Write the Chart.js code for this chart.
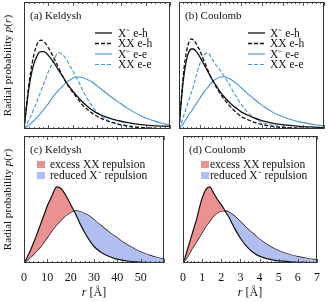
<!DOCTYPE html>
<html><head><meta charset="utf-8">
<script src="https://cdn.jsdelivr.net/npm/chart.js@4"></script>
<style>
html,body{margin:0;padding:0;background:#fff;width:328px;height:302px;overflow:hidden;}
canvas{position:absolute;display:block;}
</style></head><body>
<canvas id="ca" width="172" height="131" style="left:0;top:0"></canvas>
<canvas id="cb" width="156" height="131" style="left:172px;top:0"></canvas>
<canvas id="cc" width="172" height="168" style="left:0;top:134px"></canvas>
<canvas id="cd" width="156" height="168" style="left:172px;top:134px"></canvas>
<script>
// ---------- data ----------
const rK = [0,1,2,3,4,5,6,7,8,9,10,12,14,16,18,20,22,24,26,28,30,33,36,39,42,45,48,51,54,57,60];
const kXmEH = [0,0.17,0.32,0.43,0.51,0.56,0.60,0.61,0.61,0.60,0.58,0.53,0.47,0.41,0.35,0.30,0.255,0.215,0.18,0.15,0.125,0.10,0.08,0.065,0.052,0.042,0.034,0.029,0.025,0.022,0.02];
const kXXEH = [0,0.18,0.35,0.48,0.58,0.65,0.69,0.70,0.69,0.67,0.64,0.57,0.49,0.41,0.345,0.29,0.24,0.19,0.155,0.125,0.10,0.072,0.052,0.037,0.026,0.018,0.012,0.008,0.005,0.003,0.002];
const kXmEE = [0,0.015,0.03,0.048,0.065,0.085,0.105,0.127,0.15,0.175,0.2,0.255,0.30,0.34,0.375,0.40,0.41,0.405,0.39,0.37,0.34,0.295,0.25,0.21,0.17,0.135,0.105,0.08,0.06,0.043,0.03];
const kXXEE = [0,0.03,0.07,0.11,0.155,0.20,0.25,0.30,0.35,0.40,0.45,0.53,0.60,0.585,0.53,0.46,0.39,0.31,0.24,0.18,0.13,0.085,0.055,0.035,0.022,0.014,0.009,0.006,0.004,0.003,0.002];

const rC = [0,0.1,0.2,0.3,0.4,0.5,0.6,0.7,0.8,0.9,1.0,1.2,1.4,1.6,1.8,2.0,2.2,2.4,2.6,2.8,3.0,3.3,3.6,3.9,4.2,4.5,4.8,5.2,5.6,6.0,6.5,7.0];
const cXmEH = [0,0.2,0.37,0.49,0.57,0.615,0.63,0.63,0.615,0.595,0.57,0.51,0.45,0.39,0.34,0.29,0.25,0.215,0.185,0.16,0.135,0.11,0.09,0.072,0.058,0.047,0.038,0.03,0.024,0.019,0.015,0.011];
const cXXEH = [0,0.22,0.41,0.55,0.64,0.69,0.71,0.70,0.68,0.65,0.62,0.54,0.46,0.39,0.33,0.275,0.23,0.19,0.155,0.125,0.10,0.075,0.055,0.04,0.029,0.021,0.015,0.01,0.007,0.005,0.003,0.002];
const cXmEE = [0,0.02,0.04,0.065,0.09,0.12,0.14,0.165,0.19,0.215,0.24,0.29,0.33,0.37,0.395,0.41,0.41,0.40,0.38,0.355,0.325,0.28,0.24,0.20,0.165,0.135,0.11,0.085,0.065,0.05,0.035,0.025];
const cXXEE = [0,0.04,0.09,0.14,0.19,0.24,0.29,0.34,0.40,0.46,0.51,0.58,0.60,0.55,0.50,0.46,0.41,0.36,0.30,0.245,0.195,0.135,0.09,0.06,0.042,0.03,0.021,0.014,0.009,0.006,0.004,0.002];

const tickValsK = [0,10,20,30,40,50];
const tickLabelsK = ['0','10','20','30','40','50'];
const tickValsC = [0,1,2,3,4,5,6,7];
const tickLabelsC = ['0','1','2','3','4','5','6','7'];

const seriesNames = ['X\u207B e-h','XX e-h','X\u207B e-e','XX e-e'];
const fillNames = ['excess XX repulsion','reduced X\u207B repulsion'];
const panelTitles = ['(a) Keldysh','(b) Coulomb','(c) Keldysh','(d) Coulomb'];

// ---------- styles ----------
const BLUE = '#4a93d8';
const RED_FILL = '#ec9191';
const BLUE_FILL = '#b1bff0';
const FONT = '"Liberation Serif", "Times New Roman", serif';

const pts = (xs, ys) => xs.map((x, i) => ({x, y: ys[i]}));

const drawPlugin = {
  id: 'panelDeco',
  afterDatasetsDraw(chart, args, o) {
    const {ctx, chartArea: a, scales: {x}} = chart;
    ctx.save();
    ctx.strokeStyle = '#333'; ctx.lineWidth = 0.8;
    for (let v = 0; v <= o.xmax + 1e-9; v += o.minor) {
      const px = Math.round(x.getPixelForValue(v)) + 0.5;
      const major = Math.abs(v / o.major - Math.round(v / o.major)) < 1e-6;
      const L = major ? 4 : 2;
      ctx.beginPath();
      ctx.moveTo(px, a.bottom); ctx.lineTo(px, a.bottom - L);
      ctx.moveTo(px, a.top); ctx.lineTo(px, a.top + L);
      ctx.stroke();
    }
    ctx.strokeStyle = '#333'; ctx.lineWidth = 1;
    ctx.strokeRect(a.left + 0.5, a.top + 0.5, a.right - a.left - 1, a.bottom - a.top - 1);
    ctx.fillStyle = '#111';
    ctx.font = '11px ' + FONT;
    ctx.textBaseline = 'alphabetic';
    ctx.textAlign = 'left';
    ctx.fillText(o.title, a.left + 6, a.top + 17);
    ctx.textBaseline = 'middle';
    ctx.font = '11.5px ' + FONT;
    if (o.lines) {
      o.lines.forEach((it, i) => {
        const y = a.top + o.ly0 + i * o.ldy;
        ctx.strokeStyle = it.color; ctx.lineWidth = it.w;
        ctx.setLineDash(it.dash);
        ctx.beginPath(); ctx.moveTo(a.left + o.lx0, y); ctx.lineTo(a.left + o.lx1, y); ctx.stroke();
        ctx.setLineDash([]);
        ctx.fillStyle = '#111';
        ctx.fillText(it.label, a.left + o.tx, y + 0.5);
      });
    }
    if (o.boxes) {
      o.boxes.forEach((it, i) => {
        const y = a.top + o.ly0 + i * o.ldy;
        ctx.fillStyle = it.color;
        ctx.fillRect(a.left + o.bx, y - 3.5, 8, 7);
        ctx.fillStyle = '#111';
        ctx.fillText(it.label, a.left + o.tx, y + 0.5);
      });
    }
    const FS = '11.2px ';
    if (o.ytitle) {
      const parts = [['Radial probability ', false], ['p', true], ['(', false], ['r', true], [')', false]];
      let w = 0;
      parts.forEach(p => { ctx.font = (p[1] ? 'italic ' : '') + FS + FONT; w += ctx.measureText(p[0]).width; });
      ctx.translate(8, (a.top + a.bottom) / 2);
      ctx.rotate(-Math.PI / 2);
      ctx.textAlign = 'left';
      let cx = -w / 2;
      parts.forEach(p => { ctx.font = (p[1] ? 'italic ' : '') + FS + FONT; ctx.fillText(p[0], cx, 0); cx += ctx.measureText(p[0]).width; });
      ctx.setTransform(1, 0, 0, 1, 0, 0);
    }
    if (o.xtitle) {
      const parts = [['r', true], [' [\u00C5]', false]];
      let w = 0;
      parts.forEach(p => { ctx.font = (p[1] ? 'italic ' : '') + '12px ' + FONT; w += ctx.measureText(p[0]).width; });
      let cx = (a.left + a.right) / 2 - w / 2;
      ctx.textAlign = 'left';
      parts.forEach(p => { ctx.font = (p[1] ? 'italic ' : '') + '12px ' + FONT; ctx.fillText(p[0], cx, 159); cx += ctx.measureText(p[0]).width; });
    }
    ctx.restore();
  }
};

function lineDs(xs, ys, color, w, dash) {
  return {data: pts(xs, ys), borderColor: color, borderWidth: w, borderDash: dash, fill: false};
}

function make(id, opt) {
  return new Chart(document.getElementById(id), {
    type: 'line',
    data: {datasets: opt.datasets},
    options: {
      responsive: false, maintainAspectRatio: false, animation: false, devicePixelRatio: 1,
      layout: {padding: opt.padding},
      elements: {point: {radius: 0}, line: {cubicInterpolationMode: 'monotone'}},
      plugins: {legend: {display: false}, tooltip: {enabled: false}, panelDeco: opt.deco},
      scales: {
        x: {
          type: 'linear', min: 0, max: opt.xmax, display: opt.showX,
          grid: {display: false, drawTicks: false}, border: {display: false},
          afterFit: s => { if (opt.showX) s.height = 39; },
          ticks: {
            autoSkip: false, maxRotation: 0, stepSize: opt.major, padding: 8,
            color: '#111', font: {family: FONT, size: 12},
            callback: v => { const i = opt.tv.indexOf(v); return i >= 0 ? opt.tl[i] : ''; }
          }
        },
        y: {min: 0, max: 1, display: false}
      }
    },
    plugins: [drawPlugin]
  });
}

const topLines = [
  {label: seriesNames[0], color: '#111', w: 1.3, dash: []},
  {label: seriesNames[1], color: '#111', w: 1.3, dash: [4, 2]},
  {label: seriesNames[2], color: BLUE, w: 1.1, dash: []},
  {label: seriesNames[3], color: BLUE, w: 1.1, dash: [4, 2]}
];
const botBoxes = [
  {label: fillNames[0], color: RED_FILL},
  {label: fillNames[1], color: BLUE_FILL}
];

function topSets(xs, a, b, c, d) {
  return [lineDs(xs, a, '#111', 1.3, []), lineDs(xs, b, '#111', 1.3, [4, 2]),
          lineDs(xs, c, BLUE, 1.1, []), lineDs(xs, d, BLUE, 1.1, [4, 2])];
}
function botSets(xs, xx, xm) {
  return [
    {data: pts(xs, xx), borderColor: '#111', borderWidth: 1.2, fill: {target: 1, above: RED_FILL, below: BLUE_FILL}},
    {data: pts(xs, xm), borderColor: '#111', borderWidth: 1.2, fill: false}
  ];
}

make('ca', {xmax: 60, major: 10, tv: tickValsK, tl: tickLabelsK, showX: false,
  padding: {left: 24, top: 2, right: 2, bottom: 2},
  datasets: topSets(rK, kXmEH, kXXEH, kXmEE, kXXEE),
  deco: {xmax: 60, major: 10, minor: 2, title: panelTitles[0], lines: topLines, ly0: 31, ldy: 10.5, lx0: 71, lx1: 88, tx: 94, ytitle: true}});
make('cb', {xmax: 7, major: 1, tv: tickValsC, tl: tickLabelsC, showX: false,
  padding: {left: 7, top: 2, right: 4, bottom: 2},
  datasets: topSets(rC, cXmEH, cXXEH, cXmEE, cXXEE),
  deco: {xmax: 7, major: 1, minor: 0.2, title: panelTitles[1], lines: topLines, ly0: 31, ldy: 10.5, lx0: 69, lx1: 86, tx: 91}});
make('cc', {xmax: 60, major: 10, tv: tickValsK, tl: tickLabelsK, showX: true,
  padding: {left: 24, top: 2, right: 2, bottom: 0},
  datasets: botSets(rK, kXXEE, kXmEE),
  deco: {xmax: 60, major: 10, minor: 2, title: panelTitles[2], boxes: botBoxes, ly0: 28.5, ldy: 11, bx: 13, tx: 26, ytitle: true, xtitle: true}});
make('cd', {xmax: 7, major: 1, tv: tickValsC, tl: tickLabelsC, showX: true,
  padding: {left: 7, top: 2, right: 4, bottom: 0},
  datasets: botSets(rC, cXXEE, cXmEE),
  deco: {xmax: 7, major: 1, minor: 0.2, title: panelTitles[3], boxes: botBoxes, ly0: 28.5, ldy: 11, bx: 18, tx: 27, xtitle: true}});
</script>
</body></html>
